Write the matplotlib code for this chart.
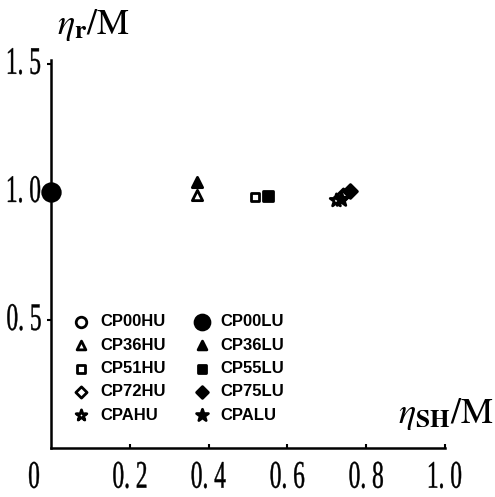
import matplotlib.pyplot as plt
from matplotlib.textpath import TextPath
from matplotlib.patches import PathPatch
from matplotlib.font_manager import FontProperties
from matplotlib.transforms import Affine2D

plt.rcParams['mathtext.fontset'] = 'stix'

# values
names = ['CP00HU', 'CP36HU', 'CP51HU', 'CP72HU', 'CPAHU',
         'CP00LU', 'CP36LU', 'CP55LU', 'CP75LU', 'CPALU']
eta_sh = [None, 0.37, 0.518, 0.742, 0.724,
          0.0, 0.37, 0.551, 0.760, 0.735]
eta_r = [None, 0.988, 0.980, 0.990, 0.970,
         1.0, 1.040, 0.985, 1.005, 0.975]
markers = ['o', '^', 's', 'D', '*', 'o', '^', 's', 'D', '*']
filled = [False] * 5 + [True] * 5
sizes = [80, 55, 40, 45, 90, 160, 55, 45, 50, 110]

xticks = [0.2, 0.4, 0.6, 0.8, 1.0]
xtick_labels = ['0. 2', '0. 4', '0. 6', '0. 8', '1. 0']
yticks = [0.5, 1.0, 1.5]
ytick_labels = ['0. 5', '1. 0', '1. 5']

fig = plt.figure(figsize=(4.95, 4.97), dpi=100)
ax = fig.add_axes([0.103, 0.098, 0.796, 0.781])

for n, x, y, m, f, s in zip(names, eta_sh, eta_r, markers, filled, sizes):
    if x is None:
        xs, ys = [], []
    else:
        xs, ys = [x], [y]
    ax.scatter(xs, ys, marker=m, s=s, facecolors='black' if f else 'white',
               edgecolors='black', linewidths=2, label=n, clip_on=False, zorder=3)

ax.set_xlim(0, 1.0)
ax.set_ylim(0, 1.516)
for side in ['top', 'right']:
    ax.spines[side].set_visible(False)
ax.spines['left'].set_linewidth(1.8)
ax.spines['bottom'].set_linewidth(1.8)

ax.set_xticks(xticks)
ax.set_xticklabels([])
ax.set_yticks(yticks)
ax.set_yticklabels([])
ax.tick_params(axis='x', direction='in', length=3, width=1.5)
ax.tick_params(axis='y', direction='out', length=3, width=1.5)

# narrow serif tick labels (condensed look of the original)
serif = FontProperties(family='Liberation Serif')
H = 497


def narrow_text(s, cx, cy, size=39, sx=0.6):
    tp = TextPath((0, 0), s, size=size, prop=serif)
    bb = tp.get_extents()
    tr = (Affine2D().translate(-(bb.x0 + bb.x1) / 2, -(bb.y0 + bb.y1) / 2)
          .scale(sx, 1).translate(cx, cy))
    fig.add_artist(PathPatch(tp, transform=tr, fc='black', ec='black', lw=0.3))


fig.canvas.draw()
for v, lab in zip(xticks, xtick_labels):
    px, _ = ax.transData.transform((v, 0))
    narrow_text(lab, px, H - 475)
for v, lab in zip(yticks, ytick_labels):
    _, py = ax.transData.transform((0, v))
    narrow_text(lab, 24, py + 3)
narrow_text('0', 34, H - 475)

fig.text(57 / 495, 1 - 25 / H, r'$\eta_{\mathbf{r}}/\mathrm{M}$', ha='left', va='center',
         fontsize=26)
fig.text(494 / 495, 1 - 414 / H, r'$\eta_{\mathbf{SH}}/\mathrm{M}$', ha='right', va='center',
         fontsize=26)

leg = ax.legend(ncol=2, loc='upper left', bbox_to_anchor=(62 / 495, 1 - 306 / H),
                bbox_transform=fig.transFigure, frameon=False, borderpad=0,
                prop={'family': 'Liberation Sans', 'weight': 'bold', 'size': 12},
                handletextpad=0.5, columnspacing=1.5, labelspacing=0.5,
                markerscale=0.85, handlelength=1.3)

fig.savefig('out.png', dpi=100)
plt.close(fig)
